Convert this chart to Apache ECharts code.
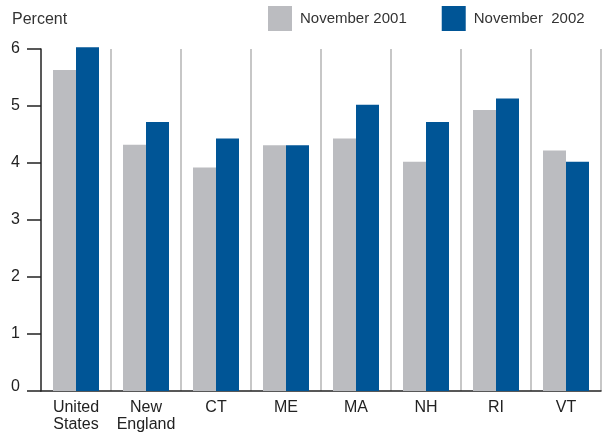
<!DOCTYPE html>
<html><head><meta charset="utf-8">
<script src="https://cdn.jsdelivr.net/npm/echarts@6/dist/echarts.min.js"></script>
<style>html,body{margin:0;padding:0;background:#fff}#c{width:606px;height:433px}</style>
</head><body><div id="c"></div>
<script>
const categories = ['United\nStates', 'New\nEngland', 'CT', 'ME', 'MA', 'NH', 'RI', 'VT'];
const nov2001 = [5.63, 4.32, 3.92, 4.31, 4.43, 4.02, 4.93, 4.22];
const nov2002 = [6.03, 4.72, 4.43, 4.31, 5.02, 4.72, 5.13, 4.02];
const seriesNames = ['November 2001', 'November  2002'];
const yTicks = [0, 1, 2, 3, 4, 5, 6];

const FONT = 'Liberation Sans, Arial, sans-serif';
const chart = echarts.init(document.getElementById('c'), null, {renderer: 'canvas'});
chart.setOption({
  animation: false,
  backgroundColor: '#fff',
  textStyle: {fontFamily: FONT},
  title: {text: 'Percent', left: 12, top: 12, padding: 0, textStyle: {fontSize: 16, fontWeight: 'normal', color: '#333', fontFamily: FONT}},
  legend: {
    left: 268, top: 6, padding: 0, itemWidth: 24, itemHeight: 25, itemGap: 35,
    icon: 'rect',
    textStyle: {fontSize: 15, color: '#333', fontFamily: FONT, padding: [0, 0, 0, 3]},
    data: seriesNames
  },
  grid: {left: 41, right: 5, top: 49, bottom: 41, containLabel: false},
  xAxis: {
    type: 'category', data: categories,
    axisLine: {show: true, lineStyle: {color: '#222', width: 1.5}},
    axisTick: {show: false},
    axisLabel: {interval: 0, fontSize: 16, color: '#222', margin: 8, lineHeight: 17, fontFamily: FONT},
    splitLine: {show: true, interval: function (i) { return i > 0 && i < categories.length; }, lineStyle: {color: '#b5b5b5', width: 1.5}}
  },
  yAxis: {
    type: 'value', min: yTicks[0], max: yTicks[yTicks.length - 1], interval: 1,
    axisLine: {show: true, lineStyle: {color: '#222', width: 1.5}},
    axisTick: {show: true, length: 14, lineStyle: {color: '#222', width: 1.5}},
    axisLabel: {
      fontSize: 16, color: '#222', margin: 21, fontFamily: FONT,
      formatter: function (v) { return v === 0 ? '{z|0}' : String(v); },
      rich: {z: {fontSize: 16, color: '#222', fontFamily: FONT, padding: [0, 0, 8, 0]}}
    },
    splitLine: {show: false}
  },
  series: [
    {name: seriesNames[0], type: 'bar', data: nov2001, barWidth: 23, barGap: '0%', clip: false, itemStyle: {color: '#bbbcc0'}},
    {name: seriesNames[1], type: 'bar', data: nov2002, barWidth: 23, barGap: '0%', clip: false, itemStyle: {color: '#005596'}}
  ]
});
</script></body></html>
